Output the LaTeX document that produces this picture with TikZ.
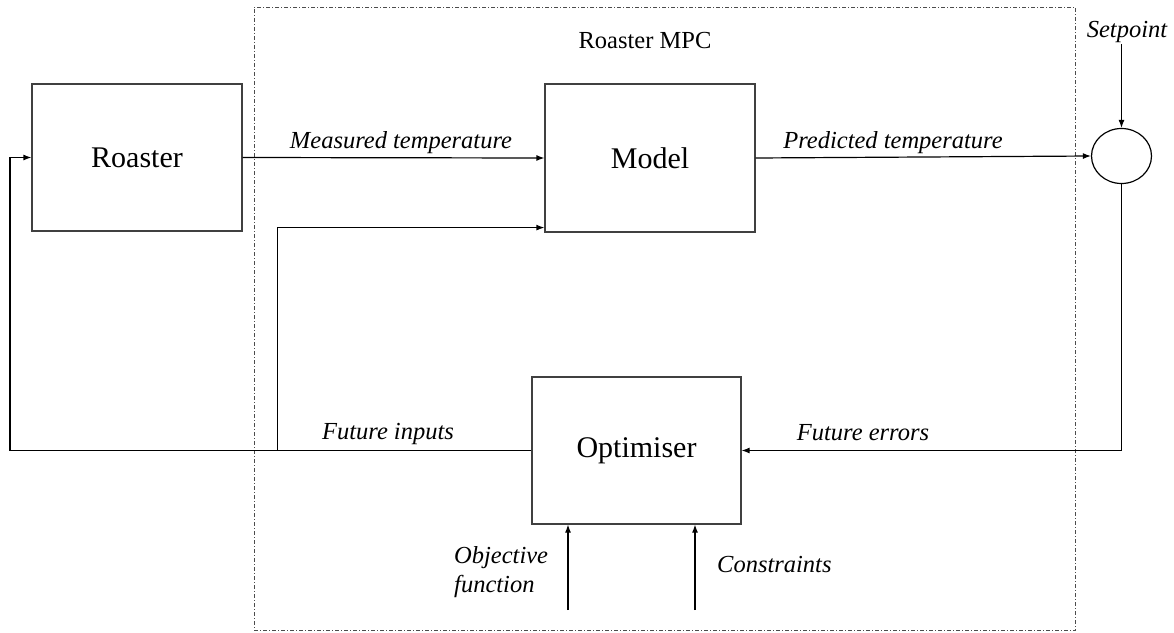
\documentclass[tikz,border=0pt]{standalone}
\usepackage{fontspec}
\setmainfont{Liberation Serif}
\usetikzlibrary{arrows.meta,shapes.geometric}

\tikzset{
  block/.style={draw=black!75, line width=1.2pt, fill=white, inner sep=0pt,
                font=\fontsize{30}{34}\selectfont},
  sig/.style={draw=black, line width=1.2pt, -{Latex[length=8pt,width=6pt]}},
  wire/.style={draw=black, line width=1.2pt},
  lbl/.style={font=\fontsize{24.5}{29}\selectfont\itshape, inner sep=1pt},
  frame/.style={draw=black!70, line width=0.8pt,
                dash pattern=on 4pt off 2pt on 1pt off 2pt, inner sep=0pt},
}

\begin{document}
\begin{tikzpicture}[x=1pt, y=-1pt]
  \useasboundingbox (0,0) rectangle (1174,632);

  % controller boundary
  \node[frame, minimum width=821.5pt, minimum height=623pt] (mpc) at (664.75,318.5) {};
  \node[font=\fontsize{24.5}{29}\selectfont] (mpctitle) at (645,41) {Roaster MPC};

  % blocks
  \node[block, minimum width=210pt, minimum height=147pt] (roaster) at (137,157.5) {Roaster};
  \node[block, minimum width=210pt, minimum height=148pt] (model) at (650,158) {Model};
  \node[block, minimum width=209pt, minimum height=147pt] (opt) at (636.5,450.5) {Optimiser};
  \node[ellipse, draw=black, line width=1.2pt, minimum width=60pt, minimum height=55pt,
        inner sep=0pt] (sum) at (1121.5,156) {};

  % signal labels
  \node[lbl] (setpoint) at (1127,32) {Setpoint};
  \node[lbl] (meas) at (401,143) {Measured temperature};
  \node[lbl] (pred) at (893,143) {Predicted temperature};
  \node[lbl] (ferr) at (863,433) {Future errors};
  \node[lbl] (finp) at (388,434) {Future inputs};
  \node[lbl, align=left, anchor=west] (objf) at (453,572) {Objective\\function};
  \node[lbl, anchor=west] (cons) at (716,565) {Constraints};

  % helper points
  \coordinate (fb) at (10,450.5);
  \coordinate (br) at (277.7,450.5);
  \coordinate (objin) at (568,610);
  \coordinate (consin) at (695,610);

  % connections
  \draw[sig] (roaster.east) -- (model.west);
  \draw[sig] (model.east) -- (sum.west);
  \draw[sig] (setpoint.south -| sum.north) -- (sum.north);
  \draw[sig] (sum.south) |- (opt.east);
  \draw[sig] (opt.west) -- (fb) |- (roaster.west);
  \draw[sig] (br) |- ([yshift=5pt]model.south west);
  \draw[sig] (objin) -- (objin |- opt.south);
  \draw[sig] (consin) -- (consin |- opt.south);
\end{tikzpicture}
\end{document}
